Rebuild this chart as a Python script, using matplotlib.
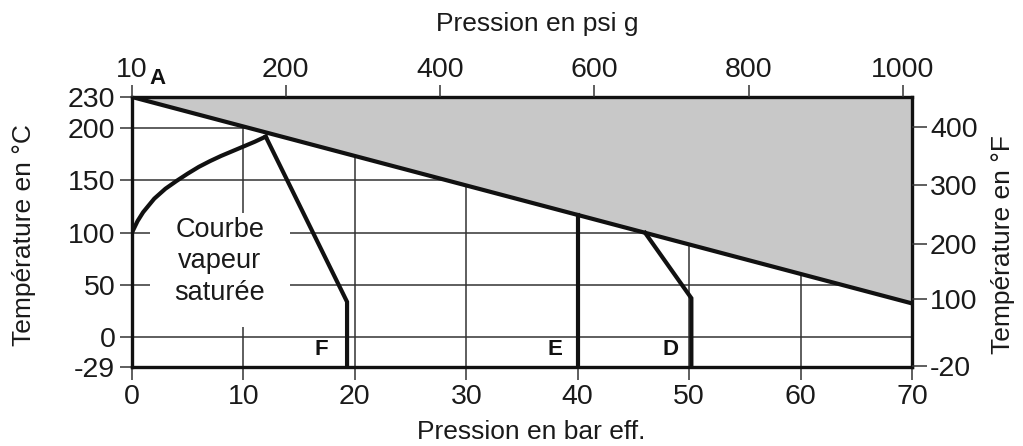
import matplotlib
matplotlib.use("Agg")
import matplotlib.pyplot as plt
from matplotlib.patches import Rectangle

plt.rcParams['font.family'] = ['Liberation Sans', 'DejaVu Sans']
plt.rcParams['axes.unicode_minus'] = False

# ---- data ----
x_ticks = [0, 10, 20, 30, 40, 50, 60, 70]
y_ticks = [-29, 0, 50, 100, 150, 200, 230]
grid_x = [10, 20, 30, 40, 50, 60]
grid_y = [0, 50, 100, 150, 200]
psi_labels = ['10', '200', '400', '600', '800', '1000']
psi_pos_bar = [0, 13.8, 27.65, 41.45, 55.35, 69.15]
degF_labels = ['-20', '100', '200', '300', '400']
degF_pos_C = [-28, 36.5, 89, 146, 201]

limit_x = [0, 70]
limit_y = [230, 32]

sat_x = [0, 0.5, 1, 2, 3, 4, 5, 6, 7, 8, 9, 10, 11, 12.0]
sat_y = [100, 111, 119.5, 132.5, 142, 149.5, 156.5, 163, 168.5, 173.5, 178, 182.5, 187, 192]

F_x = [12.0, 19.3, 19.3]
F_y = [192, 33.5, -29]
E_x = [40, 40]
E_y = [117, -29]
D_x = [46.05, 50.2, 50.2]
D_y = [99.7, 37, -29]

letters = {'A': (2.3, 248), 'F': (17.0, -12.5), 'E': (38.0, -12.5), 'D': (48.3, -12.5)}

W, H = 1023, 446

# ---- figure ----
fig = plt.figure(figsize=(W / 100, H / 100), dpi=100)
ax = fig.add_axes([132/W, 1-367/H, (912-132)/W, (367-97)/H])
ax.set_xlim(0, 70)
ax.set_ylim(-29, 230)

lc = '#111111'
gc = '#333333'
tc = '#1a1a1a'

for gx in grid_x:
    ax.axvline(gx, color=gc, lw=1.1, zorder=1)
for gy in grid_y:
    ax.axhline(gy, color=gc, lw=1.1, zorder=1)

# grey region above limit line
ax.fill_between(limit_x, limit_y, [230, 230], color='#c8c8c8', zorder=2, lw=0)
ax.plot(limit_x, limit_y, color=lc, lw=3, zorder=4, solid_capstyle='butt')

# white box behind label
ax.add_patch(Rectangle((1.6, 9.6), 12.6, 109.2, facecolor='white', edgecolor='none', zorder=3))
ax.text(7.9, 35.5, 'Courbe\nvapeur\nsaturée', ha='center', va='baseline', fontsize=19.5,
        linespacing=1.27, color=tc, zorder=5)

ax.plot(sat_x, sat_y, color=lc, lw=3, zorder=4)
for xs, ys in [(F_x, F_y), (E_x, E_y), (D_x, D_y)]:
    ax.plot(xs, ys, color=lc, lw=3, zorder=4, solid_joinstyle='miter')

for k, (lx, ly) in letters.items():
    ax.text(lx, ly, k, ha='center', va='center', fontsize=16, fontweight='bold',
            color=lc, zorder=6, clip_on=False)

for s in ax.spines.values():
    s.set_linewidth(2.4)
    s.set_color(lc)
    s.set_zorder(7)

ax.set_xticks(x_ticks)
ax.set_yticks(y_ticks)
ax.tick_params(axis='both', direction='out', length=9, width=1.1, color=gc,
               labelsize=20.5, labelcolor=tc, pad=3)

# top axis psi
axt = ax.twiny()
axt.set_xlim(0, 70)
axt.set_xticks(psi_pos_bar)
axt.set_xticklabels(psi_labels)
axt.tick_params(axis='x', direction='out', length=9, width=1.1, color=gc,
                labelsize=20.5, labelcolor=tc, pad=1)

# right axis F
axr = ax.twinx()
axr.set_ylim(-29, 230)
axr.set_yticks(degF_pos_C)
axr.set_yticklabels(degF_labels)
axr.tick_params(axis='y', direction='out', length=11, width=1.1, color=gc,
                labelsize=20.5, labelcolor=tc, pad=2)

for a in (axt, axr):
    for s in a.spines.values():
        s.set_visible(False)

# axis titles
fig.text(531/W, 1-432/H, 'Pression en bar eff.', ha='center', va='center', fontsize=19, color=tc)
fig.text(537/W, 1-24/H, 'Pression en psi g', ha='center', va='center', fontsize=19, color=tc)
fig.text(24/W, 1-235/H, 'Température en °C', ha='center', va='center', rotation=90, fontsize=19, color=tc)
fig.text(1003/W, 1-245/H, 'Température en °F', ha='center', va='center', rotation=90, fontsize=19, color=tc)

fig.savefig('out.png', dpi=100)
